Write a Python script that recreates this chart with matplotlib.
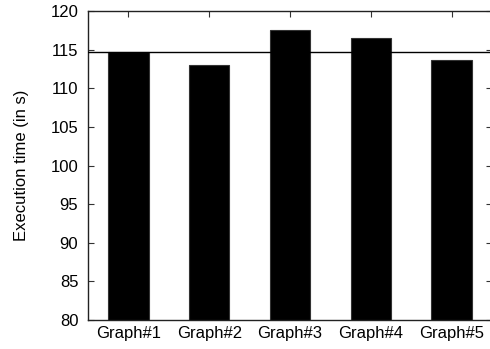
import numpy as np
import matplotlib
matplotlib.use("Agg")
import matplotlib.pyplot as plt

plt.rcParams['font.family'] = ['Liberation Sans', 'DejaVu Sans']

graphs = ['Graph#1', 'Graph#2', 'Graph#3', 'Graph#4', 'Graph#5']
exec_time = [114.7, 113.0, 117.5, 116.5, 113.6]
reference_time = 114.7

fig = plt.figure(figsize=(4.9, 3.49), dpi=100)
ax = fig.add_axes([88/490, 29/349, 404/490, 309/349])

x = np.arange(1, len(graphs) + 1)
ax.bar(x, exec_time, width=0.5, color='black', edgecolor='#333333', linewidth=0.8, zorder=2)
ax.axhline(reference_time, color='black', linewidth=1.0, zorder=3)

ax.set_xlim(0.5, 5.5)
ax.set_ylim(80, 120)
ax.set_yticks(np.arange(80, 121, 5))
ax.set_xticks(x)
ax.set_xticklabels(graphs)
ax.set_ylabel('Execution time (in s)', fontsize=12)
ax.yaxis.set_label_coords(-0.145, 0.5)

ax.tick_params(axis='both', direction='in', length=4, width=0.8, labelsize=12,
               top=True, right=True, color='#333333')
ax.tick_params(axis='x', pad=4)
ax.tick_params(axis='y', pad=7)
for s in ax.spines.values():
    s.set_linewidth(1.0)
    s.set_color('#222222')

fig.savefig('out.png', dpi=100)
